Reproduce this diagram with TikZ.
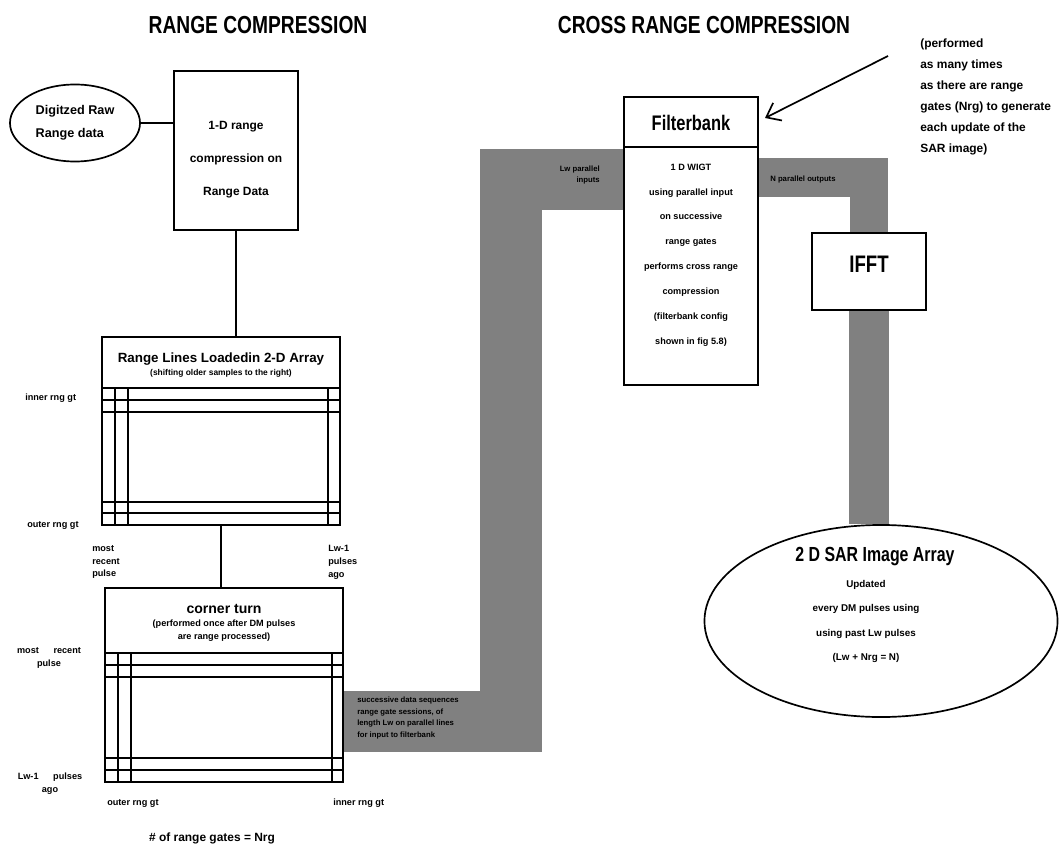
\documentclass[tikz,border=0pt]{standalone}
\usepackage{fontspec}
\setmainfont{Liberation Sans}
\newfontfamily\narrowsans[FakeStretch=0.78]{Liberation Sans}
\usetikzlibrary{shapes.geometric,arrows.meta,backgrounds}

\begin{document}
\begin{tikzpicture}[x=0.025cm,y=-0.025cm,
  box/.style={draw,line width=1.2pt,inner sep=0pt},
  oval/.style={draw,ellipse,line width=1.2pt,inner sep=0pt},
  link/.style={line width=1.2pt},
  band/.style={draw=black!50,line join=miter},
  gridthin/.style={line width=0.9pt},
  gridbold/.style={line width=1.7pt},
  bigtitle/.style={font=\narrowsans\bfseries\fontsize{17.5}{20}\selectfont,inner sep=0pt},
  head/.style={font=\narrowsans\bfseries\fontsize{15}{18}\selectfont,inner sep=0pt},
  boxtext/.style={font=\bfseries\fontsize{8.5}{23.5}\selectfont,align=center,inner sep=0pt},
  small/.style={font=\bfseries\fontsize{6.5}{9.2}\selectfont,inner sep=0pt},
  tiny/.style={font=\bfseries\fontsize{5.5}{8.5}\selectfont,inner sep=0pt}]
  \useasboundingbox (0,0) rectangle (1062,846);

  % titles
  \node[bigtitle] (rctitle) at (258,25) {RANGE COMPRESSION};
  \node[bigtitle] (crtitle) at (704,25) {CROSS RANGE COMPRESSION};
  \node[font=\bfseries\fontsize{8.5}{15}\selectfont,align=left,anchor=west,inner sep=0pt]
    (perfnote) at (920,97) {(performed\\as many times\\as there are range\\gates (Nrg) to generate\\each update of the\\SAR image)};

  % range compression
  \node[oval,minimum width=3.25cm,minimum height=1.925cm,
    font=\bfseries\fontsize{9}{16.4}\selectfont,align=left] (raw) at (75,123) {Digitzed Raw\\Range data};
  \node[box,minimum width=3.1cm,minimum height=3.975cm] (rngc) at (236,150.5) {};
  \node[boxtext] (rngctxt) at (236,160) {1-D range\\compression on\\Range Data};
  \draw[link] (raw.east) -- (raw.east -| rngc.west);

  % range lines array
  \node[box,minimum width=5.95cm,minimum height=4.7cm] (rl) at (221,431) {};
  \draw[link] (rngc.south) -- (rngc.south |- rl.north);
  \draw[link] (102,388) -- (340,388);
  \node[font=\bfseries\fontsize{9.5}{11}\selectfont,inner sep=0pt] (rltitle) at (221,359) {Range Lines Loadedin 2-D Array};
  \node[font=\bfseries\fontsize{6}{7}\selectfont,inner sep=0pt] (rlsub) at (221,373) {(shifting older samples to the right)};
  \draw[gridthin] (102,400) -- (340,400);
  \draw[gridbold] (102,412) -- (340,412);
  \draw[gridbold] (102,502) -- (340,502);
  \draw[gridthin] (102,513) -- (340,513);
  \draw[gridthin] (115,388) -- (115,525);
  \draw[gridbold] (128,388) -- (128,525);
  \draw[gridbold] (328,388) -- (328,525);
  \node[small,anchor=west] (rlinner) at (25,398) {inner rng gt};
  \node[small,anchor=west] (rlouter) at (27,525) {outer rng gt};
  \node[small,anchor=west,align=left] (rlrecent) at (92,562) {most\\recent\\pulse};
  \node[small,anchor=west,align=left] (rlago) at (328,562) {Lw-1\\pulses\\ago};

  % corner turn
  \node[box,minimum width=5.95cm,minimum height=4.85cm] (ct) at (224,685) {};
  \draw[link] (rl.south) -- (rl.south |- ct.north);
  \draw[link] (105,653) -- (343,653);
  \node[font=\bfseries\fontsize{10}{12}\selectfont,inner sep=0pt] (cttitle) at (224,609) {corner turn};
  \node[font=\bfseries\fontsize{6.5}{9.2}\selectfont,align=center,inner sep=0pt] (ctsub) at (224,630.5) {(performed once after DM pulses\\are range processed)};
  \draw[gridthin] (105,665) -- (343,665);
  \draw[gridbold] (105,677) -- (343,677);
  \draw[gridbold] (105,758) -- (343,758);
  \draw[gridthin] (105,770) -- (343,770);
  \draw[gridthin] (118,653) -- (118,782);
  \draw[gridbold] (131,653) -- (131,782);
  \draw[gridbold] (332,653) -- (332,782);
  \node[small,align=center] (ctrecent) at (49,657.5) {most\hspace{1.6em}recent\\pulse};
  \node[small,align=center] (ctago) at (50,783.5) {Lw-1\hspace{1.6em}pulses\\ago};
  \node[small,anchor=west] (ctouter) at (107,803) {outer rng gt};
  \node[small,anchor=west] (ctinner) at (333,803) {inner rng gt};
  \node[font=\bfseries\fontsize{8.5}{10}\selectfont,inner sep=0pt] (nrg) at (212,838) {\# of range gates = Nrg};

  % cross range compression
  \node[box,minimum width=3.35cm,minimum height=7.2cm] (filt) at (691,241) {};
  \draw[link] (624,147) -- (758,147);
  \node[head] (filttitle) at (691,123) {Filterbank};
  \node[font=\bfseries\fontsize{6.5}{17.7}\selectfont,align=center,inner sep=0pt] (filttxt) at (691,255)
    {1 D WIGT\\using parallel input\\on successive\\range gates\\performs cross range\\compression\\(filterbank config\\shown in fig 5.8)};
  \coordinate (arrtail) at (888,56);
  \coordinate (arrtip) at (765,118);
  \draw[link,-{Straight Barb[length=9pt,width=14pt,line width=1.2pt]}] (arrtail) -- (arrtip);

  \node[box,minimum width=2.85cm,minimum height=1.925cm] (ifft) at (869,271.5) {};
  \node[head,font=\narrowsans\bfseries\fontsize{17}{20}\selectfont] (iffttxt) at (869,264) {IFFT};

  \node[oval,minimum width=8.825cm,minimum height=4.8cm] (sar) at (881,621) {};
  \node[head,font=\narrowsans\bfseries\fontsize{14.5}{17}\selectfont] (sartitle) at (875,557) {2 D SAR Image Array};
  \node[font=\bfseries\fontsize{7}{17.3}\selectfont,align=center,inner sep=0pt] (sartxt) at (866,621.5)
    {Updated\\every DM pulses using\\using past Lw pulses\\(Lw + Nrg = N)};

  % data bands
  \begin{scope}[on background layer]
    \draw[band,line width=44pt] (ct.east |- 0,721.5) -| (511,179.5) -- (filt.west |- 0,179.5);
    \draw[band,line width=27.7pt] (filt.east |- 0,177.5) -| (ifft.north);
    \draw[band,line width=28.5pt] (ifft.south) -- (ifft.south |- sar.north);
  \end{scope}
  \node[tiny,align=left,anchor=west] (bandin) at (357,718)
    {successive data sequences\\range gate sessions, of\\length Lw on parallel lines\\for input to filterbank};
  \node[tiny,align=right,anchor=east] (bandtop) at (600,175) {Lw parallel\\inputs};
  \node[tiny,anchor=west] (bandout) at (770,180) {N parallel outputs};
\end{tikzpicture}
\end{document}
